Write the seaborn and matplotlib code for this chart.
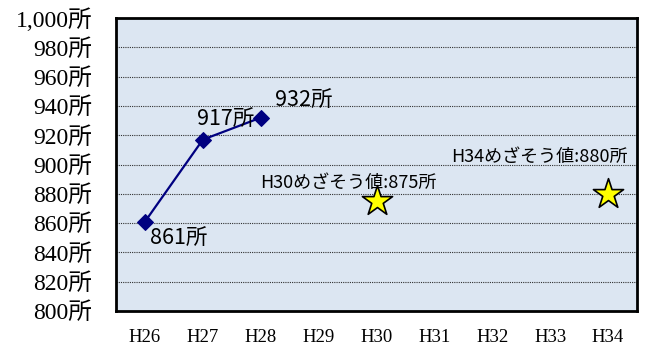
import matplotlib
matplotlib.use("Agg")
import matplotlib.pyplot as plt
import seaborn as sns
import pandas as pd

years = ["H26", "H27", "H28", "H29", "H30", "H31", "H32", "H33", "H34"]
actual_years = ["H26", "H27", "H28"]
actual_values = [861, 917, 932]
target_years = ["H30", "H34"]
target_values = [875, 880]
y_ticks = list(range(800, 1001, 20))

sns.set_theme(style="white")
plt.rcParams['font.family'] = ['Noto Sans CJK JP', 'DejaVu Sans']
plt.rcParams['text.color'] = 'black'
plt.rcParams['xtick.color'] = 'black'
plt.rcParams['ytick.color'] = 'black'

pos = {y: i for i, y in enumerate(years)}
df_actual = pd.DataFrame({"x": [pos[y] for y in actual_years], "v": actual_values})
df_target = pd.DataFrame({"x": [pos[y] for y in target_years], "v": target_values})

fig = plt.figure(figsize=(6.46, 3.47), dpi=100)
ax = fig.add_axes([0.1796, 0.1037, 0.8065, 0.8443])
ax.set_facecolor("#dce6f2")

sns.lineplot(data=df_actual, x="x", y="v", ax=ax, color="#000080", lw=1.6,
             marker="D", markersize=8, markeredgecolor="#000080")
sns.scatterplot(data=df_target, x="x", y="v", ax=ax, marker="*", s=520,
                color="#ffff00", edgecolor="black", linewidth=1.2, zorder=5)

ax.set_xlim(-0.5, len(years) - 0.5)
ax.set_ylim(800, 1000)
ax.set_yticks(y_ticks)
ax.set_yticklabels([f"{v:,}所" for v in y_ticks],
                   family=['Liberation Serif', 'Noto Sans CJK JP'], fontsize=17)
ax.set_xticks(range(len(years)))
ax.set_xticklabels(years, family=['Liberation Serif'], fontsize=13.5)
ax.set_xticks([i + 0.5 for i in range(len(years) - 1)], minor=True)
ax.tick_params(axis='x', which='major', length=0, pad=13)
ax.tick_params(axis='x', which='minor', length=4, width=1, color='black', direction='in')
ax.tick_params(axis='y', length=0, pad=17)
ax.set_xlabel("")
ax.set_ylabel("")

for yv in y_ticks[1:-1]:
    ax.axhline(yv, color="#303030", lw=0.8, ls=(0, (1, 1)), zorder=1)

for s in ax.spines.values():
    s.set_color("black")
    s.set_linewidth(2)

ax.text(2.25, 944, "932所", fontsize=15.5, ha="left", va="center")
ax.text(0.9, 931, "917所", fontsize=15.5, ha="left", va="center")
ax.text(0.09, 850, "861所", fontsize=15.5, ha="left", va="center")
ax.text(1.99, 887.4, "H30めざそう値:875所", fontsize=13, ha="left", va="center")
ax.text(8.34, 905, "H34めざそう値:880所", fontsize=13, ha="right", va="center")

fig.savefig("out.png", dpi=100)
